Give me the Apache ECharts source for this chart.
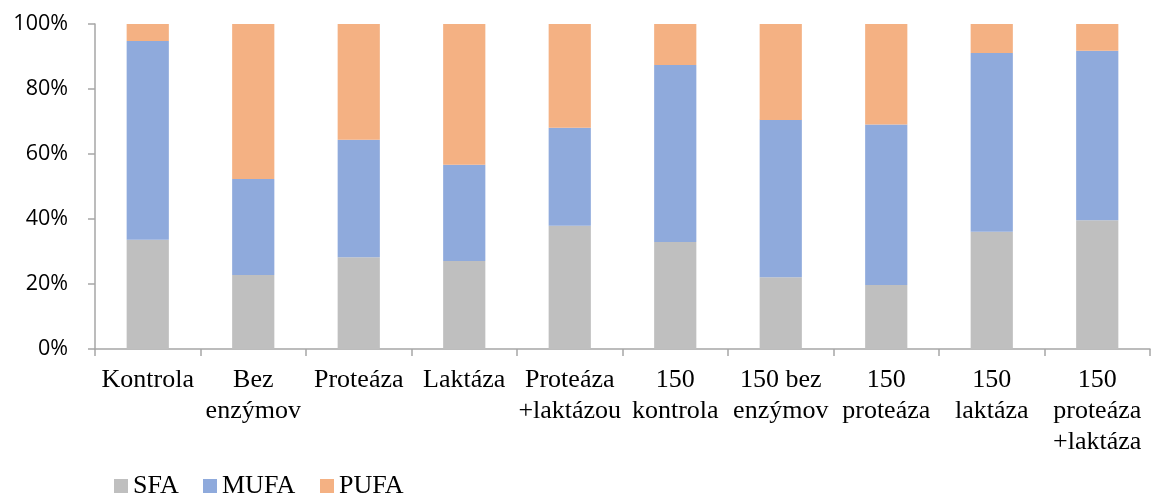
<!DOCTYPE html>
<html>
<head>
<meta charset="utf-8">
<script src="https://cdn.jsdelivr.net/npm/echarts@6/dist/echarts.min.js"></script>
<style>html,body{margin:0;padding:0;background:#fff}#c{width:1153px;height:497px}</style>
</head>
<body>
<div id="c"></div>
<script>
const categories = ['Kontrola', 'Bez\nenzýmov', 'Proteáza', 'Laktáza', 'Proteáza\n+laktázou', '150\nkontrola', '150 bez\nenzýmov', '150\nproteáza', '150\nlaktáza', '150\nproteáza\n+laktáza'];
const sfa  = [33.6, 22.8, 28.2, 27.1, 37.9, 32.9, 22.1, 19.7, 36.1, 39.6];
const mufa = [61.2, 29.5, 36.2, 29.6, 30.2, 54.5, 48.4, 49.4, 55.0, 52.2];
const pufa = [5.2, 47.7, 35.6, 43.3, 31.9, 12.6, 29.5, 30.9, 8.9, 8.2];
const seriesNames = ['SFA', 'MUFA', 'PUFA'];
const colors = ['#BFBFBF', '#8FAADC', '#F4B183'];

const chart = echarts.init(document.getElementById('c'));
const legendLefts = [114, 203, 320];
const serif = '"Liberation Serif", "Times New Roman", serif';
chart.setOption({
  animation: false,
  grid: {left: 95, right: 3, top: 24, bottom: 148, containLabel: false},
  legend: seriesNames.map((n, i) => ({
    data: [n], left: legendLefts[i], top: 473, itemWidth: 14, itemHeight: 14, itemGap: 0,
    icon: 'rect', padding: 0,
    textStyle: {fontFamily: serif, fontSize: 26, color: '#000'}
  })),
  xAxis: {
    type: 'category', data: categories,
    axisLine: {lineStyle: {color: '#A6A6A6', width: 1.5}},
    axisTick: {show: true, length: 7, lineStyle: {color: '#A6A6A6', width: 1.5}},
    axisLabel: {interval: 0, fontFamily: serif, fontSize: 26, color: '#000', lineHeight: 31, margin: 16}
  },
  yAxis: {
    type: 'value', min: 0, max: 100, interval: 20,
    axisLine: {show: true, lineStyle: {color: '#A6A6A6', width: 1.5}},
    axisTick: {show: true, length: 7, lineStyle: {color: '#A6A6A6', width: 1.5}},
    splitLine: {show: false},
    axisLabel: {formatter: '{value}%', fontFamily: '"Open Sans", sans-serif', fontSize: 21.5, color: '#000', margin: 27}
  },
  series: [sfa, mufa, pufa].map((d, i) => ({
    name: seriesNames[i], type: 'bar', stack: 'total', data: d, barWidth: '40%',
    itemStyle: {color: colors[i]}
  }))
});
</script>
</body>
</html>
